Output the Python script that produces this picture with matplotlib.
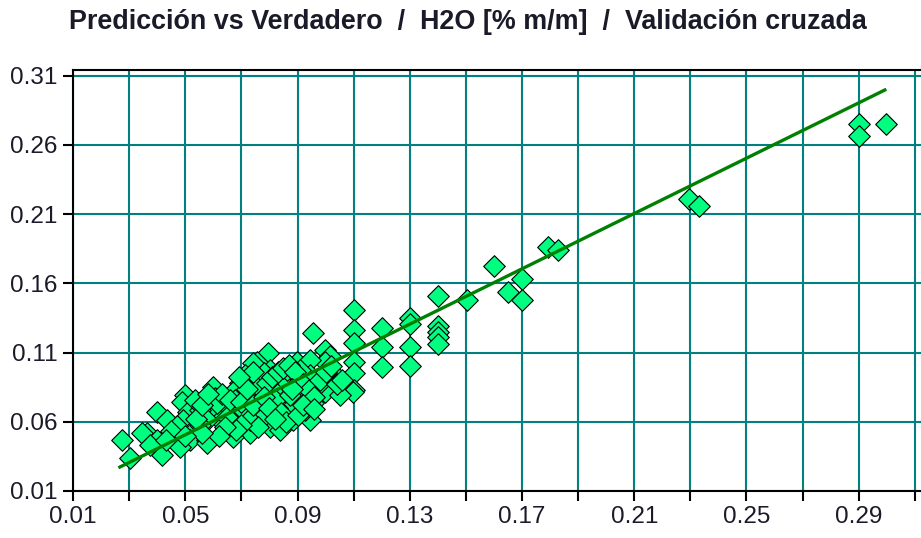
import numpy as np
import matplotlib
matplotlib.use("Agg")
import matplotlib.pyplot as plt
from matplotlib.ticker import FixedLocator

plt.rcParams['font.family'] = ['Liberation Sans', 'DejaVu Sans']

title = u"Predicci\u00f3n vs Verdadero  /  H2O [% m/m]  /  Validaci\u00f3n cruzada"

# true values (x) and cross-validated predictions (y)
true_vals = [
    0.2900, 0.2900, 0.2999, 0.2295, 0.2330, 0.1792, 0.1828,
    0.1600, 0.1700, 0.1650, 0.1700, 0.1504, 0.1400,
    0.1400, 0.1400, 0.1400, 0.1400,
    0.1301, 0.1301, 0.1301, 0.1301,
    0.1201, 0.1201, 0.1201,
    0.1101, 0.1101, 0.1101, 0.1101, 0.1101, 0.1101, 0.1098,
    0.0955,
    0.0998, 0.1016, 0.0998, 0.1033, 0.1016, 0.0998, 0.1051,
    0.0898, 0.0944, 0.0898, 0.0944, 0.0909, 0.0955, 0.0884, 0.0944,
    0.0927, 0.0973, 0.0873, 0.0855, 0.0909,
    0.0795, 0.0756, 0.0741, 0.0802, 0.0845, 0.0813, 0.0748, 0.0827,
    0.0802, 0.0838, 0.0731, 0.0756, 0.0731, 0.0784, 0.0862, 0.0773,
    0.0820, 0.0873,
    0.0599, 0.0606, 0.0599, 0.0649, 0.0624, 0.0659, 0.0670, 0.0695,
    0.0706, 0.0720, 0.0670, 0.0695, 0.0649, 0.0713, 0.0677, 0.0731,
    0.0499, 0.0488, 0.0510, 0.0492, 0.0528, 0.0517, 0.0552, 0.0577,
    0.0577, 0.0613, 0.0577, 0.0453, 0.0481, 0.0552, 0.0535,
    0.0275, 0.0303, 0.0399, 0.0364, 0.0346, 0.0399, 0.0435, 0.0417,
    0.0374,
    0.0630, 0.0660, 0.0700, 0.0740, 0.0760, 0.0780, 0.0790, 0.0810,
    0.0830, 0.0850, 0.0870, 0.0890, 0.0920, 0.0940, 0.0960, 0.0980,
    0.1000, 0.1020, 0.1040, 0.0780, 0.0800, 0.0840, 0.0860, 0.0900,
    0.0920, 0.0760, 0.0700, 0.0680, 0.0640, 0.0620, 0.0560, 0.0540,
    0.0560, 0.0580, 0.0470, 0.0450, 0.0430, 0.0500, 0.0720, 0.0740,
    0.0690, 0.0820, 0.0880, 0.0960, 0.1060,
]
pred_vals = [
    0.2752, 0.2667, 0.2752, 0.2210, 0.2159, 0.1863, 0.1841,
    0.1726, 0.1632, 0.1538, 0.1480, 0.1480, 0.1509,
    0.1292, 0.1249, 0.1213, 0.1162,
    0.1350, 0.1310, 0.1140, 0.1000,
    0.1278, 0.1140, 0.0996,
    0.1408, 0.1263, 0.1169, 0.1032, 0.0953, 0.0830, 0.0815,
    0.1242,
    0.1119, 0.1075, 0.1032, 0.0938, 0.0866, 0.0815, 0.0794,
    0.1032, 0.1047, 0.0902, 0.0938, 0.0779, 0.0736, 0.0613, 0.0613,
    0.0685, 0.0866, 0.0721, 0.0815, 0.0974,
    0.1097, 0.1032, 0.1025, 0.0974, 0.0888, 0.0830, 0.0808, 0.0700,
    0.0562, 0.0541, 0.0519, 0.0613, 0.0613, 0.0649, 0.0974, 0.0916,
    0.0758, 0.0794,
    0.0851, 0.0772, 0.0685, 0.0707, 0.0613, 0.0562, 0.0490, 0.0880,
    0.0808, 0.0635, 0.0815, 0.0707, 0.0635, 0.0938, 0.0758, 0.0758,
    0.0794, 0.0743, 0.0671, 0.0613, 0.0541, 0.0468, 0.0685, 0.0468,
    0.0613, 0.0736, 0.0447, 0.0490, 0.0418, 0.0577, 0.0758,
    0.0468, 0.0338, 0.0671, 0.0519, 0.0519, 0.0468, 0.0613, 0.0360,
    0.0432,
    0.0800, 0.0760, 0.0740, 0.0720, 0.0860, 0.0950, 0.0880, 0.0920,
    0.0960, 0.0990, 0.1010, 0.0960, 0.0870, 0.0830, 0.0780, 0.0900,
    0.0960, 0.1000, 0.0870, 0.0780, 0.0700, 0.0660, 0.0600, 0.0650,
    0.0720, 0.0560, 0.0580, 0.0540, 0.0560, 0.0500, 0.0520, 0.0620,
    0.0720, 0.0800, 0.0570, 0.0530, 0.0470, 0.0500, 0.0840, 0.0960,
    0.0920, 0.0620, 0.0840, 0.0690, 0.0900,
]

# regression line ends
fit_x = [0.0267, 0.2993]
fit_y = [0.0273, 0.2997]

grid_col = '#008080'
txt_col = '#1a1a28'

fig = plt.figure(figsize=(9.21, 5.38), dpi=100)
ax = fig.add_axes([0.0793, 0.0874, 0.9207, 0.7826])

ax.set_xlim(0.01, 0.3122)
ax.set_ylim(0.01, 0.3142)

ax.xaxis.set_major_locator(FixedLocator(np.arange(0.01, 0.30, 0.04)))
ax.xaxis.set_minor_locator(FixedLocator(np.arange(0.03, 0.32, 0.04)))
ax.yaxis.set_major_locator(FixedLocator(np.arange(0.01, 0.32, 0.05)))
ax.xaxis.set_major_formatter(plt.FuncFormatter(lambda v, p: "%.2f" % v))
ax.yaxis.set_major_formatter(plt.FuncFormatter(lambda v, p: "%.2f" % v))

ax.grid(True, which='both', color=grid_col, linewidth=1.5, zorder=0)
ax.set_axisbelow(True)

ax.tick_params(which='both', direction='out', length=7, width=1.5,
               color='black', labelsize=17.5, labelcolor=txt_col, pad=4)

for s in ['left', 'bottom', 'top']:
    ax.spines[s].set_color('black')
    ax.spines[s].set_linewidth(1.5)
ax.spines['right'].set_visible(False)

ax.scatter(true_vals, pred_vals, marker='D', s=121, facecolor='#00ff80',
           edgecolor='black', linewidth=0.8, zorder=3)
ax.plot(fit_x, fit_y, color='#008000', linewidth=2.4, zorder=4)

fig.text(0.508, 0.959, title, ha='center', va='center', fontsize=19.4,
         fontweight='bold', color=txt_col)

fig.savefig("out.png", dpi=100)
